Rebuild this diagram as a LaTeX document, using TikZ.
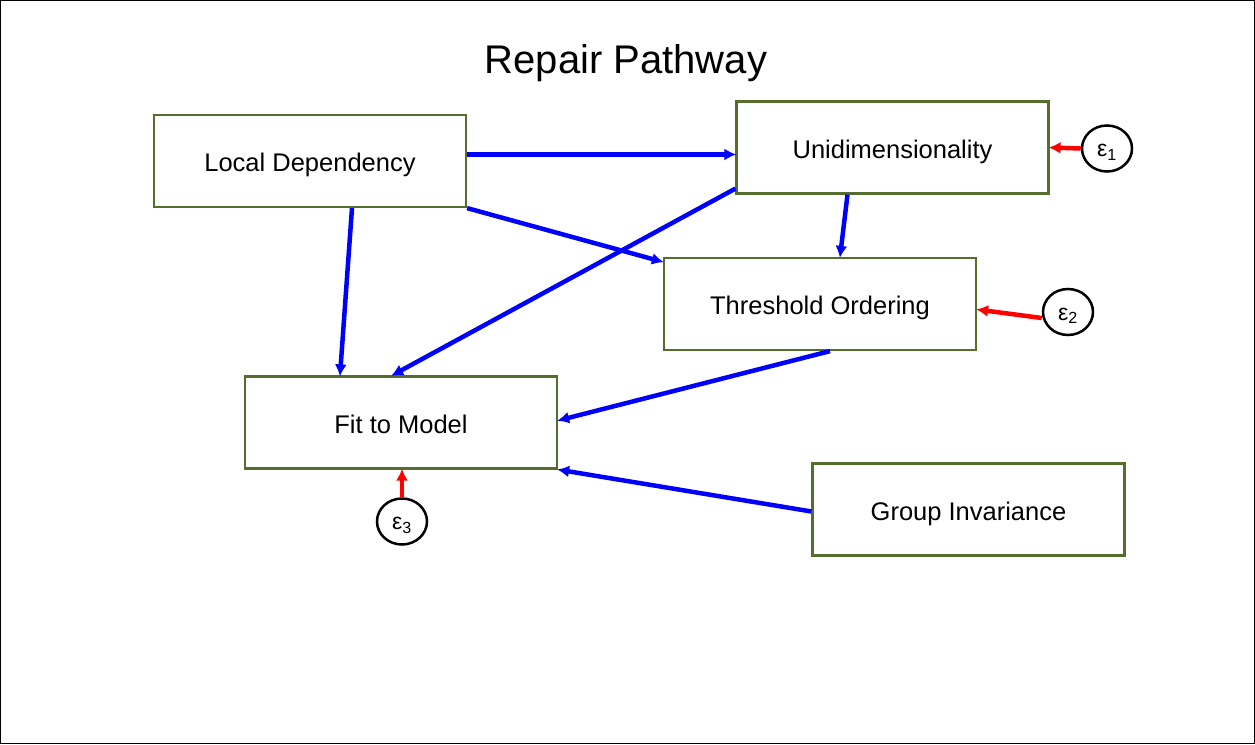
\documentclass[tikz,border=0pt]{standalone}
\usepackage{fontspec}
\setmainfont{Liberation Sans}
\usetikzlibrary{arrows.meta,calc,shapes.geometric}
\definecolor{boxgreen}{RGB}{85,110,45}
\tikzset{
  var/.style={draw=boxgreen,line width=2.2pt,minimum width=312pt,minimum height=92pt,inner sep=0pt,text height=24pt,text depth=3pt,font=\fontsize{25.5}{30}\selectfont},
  err/.style={draw=black,line width=2.5pt,ellipse,minimum width=50pt,minimum height=46pt,inner sep=0pt,text height=18pt,text depth=2pt,font=\fontsize{23}{26}\selectfont},
  path/.style={draw=blue,line width=4.5pt,-{Latex[length=12pt,width=12pt]},shorten >=-1pt},
  epath/.style={draw=red,line width=4.5pt,-{Latex[length=12pt,width=12pt]},shorten >=-1pt}
}
\begin{document}
\begin{tikzpicture}[x=1pt,y=-1pt]
\draw[black,line width=1pt] (0.5,0.5) rectangle (1254.5,743.5);
\useasboundingbox (0,0) rectangle (1255,744);
\node[font=\fontsize{40}{46}\selectfont] (title) at (626,63) {Repair Pathway};
\node[var] (ld) at (310,161) {Local Dependency};
\node[var] (un) at (892.5,147.5) {Unidimensionality};
\node[var] (to) at (820,304) {Threshold Ordering};
\node[var] (fm) at (401,422.5) {Fit to Model};
\node[var] (gi) at (968.5,509.5) {Group Invariance};
\node[err] (e1) at (1107,148.5) {ε\textsubscript{1}};
\node[err] (e2) at (1068,312) {ε\textsubscript{2}};
\node[err] (e3) at (402,521.5) {ε\textsubscript{3}};
\draw[path] ($(ld.east)+(0,-6.5)$) -- ($(un.west)+(0,7)$);
\draw[path] (ld.south east) -- ($(to.north west)+(0,5)$);
\draw[path] ($(ld.south)+(42,0)$) -- ($(fm.north)+(-61,0)$);
\draw[path] ($(un.south west)+(0,-6)$) -- ($(fm.north)+(-9,0)$);
\draw[path] ($(un.south)+(-45,0)$) -- ($(to.north)+(20,0)$);
\draw[path] ($(to.south)+(10,0)$) -- ($(fm.east)+(0,-2)$);
\draw[path] ($(gi.west)+(0,2)$) -- (fm.south east);
\draw[epath] (e1.west) -- ($(un.east)+(0,0)$);
\draw[epath] ($(e2.west)+(0,6)$) -- ($(to.east)+(0,5.5)$);
\draw[epath] (e3.north) -- ($(fm.south)+(1,0)$);
\end{tikzpicture}
\end{document}
